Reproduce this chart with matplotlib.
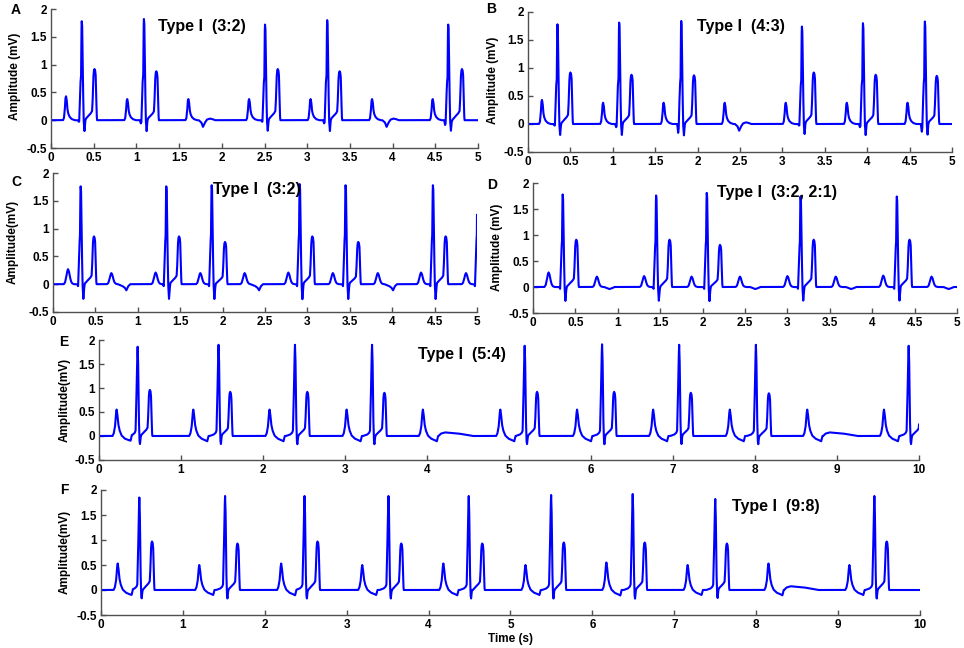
import numpy as np
import matplotlib
matplotlib.use("Agg")
import matplotlib.pyplot as plt

plt.rcParams['font.family'] = ['Liberation Sans', 'DejaVu Sans']

# ---- event data (times in s, amplitudes in mV) ----
# A: Type I (3:2)
A_p_times = [0.176, 0.893, 1.609, 2.32, 3.04, 3.76, 4.47]
A_p_amps = [0.43, 0.38, 0.38, 0.38, 0.38, 0.38, 0.38]
A_r_times = [0.36, 1.088, 2.506, 3.234, 4.651]
A_r_amps = [1.78, 1.82, 1.72, 1.80, 1.72]
A_q_amps = [0.02, 0.05, 0.02, 0.05, 0.08]
A_t_times = [0.509, 1.233, 2.655, 3.379, 4.812]
A_t_amps = [0.92, 0.88, 0.92, 0.88, 0.92]
A_drop_times = [1.78, 3.93]

# B: Type I (4:3)
B_p_times = [0.165, 0.886, 1.60, 2.32, 3.04, 3.76, 4.476]
B_p_amps = [0.43, 0.38, 0.38, 0.38, 0.38, 0.38, 0.38]
B_r_times = [0.347, 1.075, 1.807, 3.23, 3.95, 4.68]
B_r_amps = [1.78, 1.81, 1.84, 1.74, 1.80, 1.83]
B_q_amps = [0.02, 0.05, 0.15, 0.02, 0.05, 0.13]
B_t_times = [0.50, 1.22, 1.957, 3.37, 4.10, 4.82]
B_t_amps = [0.92, 0.88, 0.87, 0.92, 0.88, 0.86]
B_drop_times = [2.49]

# C: Type I (3:2)
C_p_times = [0.177, 0.688, 1.21, 1.737, 2.26, 2.775, 3.30, 3.83, 4.34, 4.87]
C_p_amps = [0.27, 0.20, 0.21, 0.20, 0.20, 0.21, 0.20, 0.20, 0.21, 0.20]
C_r_times = [0.326, 1.336, 1.871, 2.909, 3.45, 4.48, 5.006]
C_r_amps = [1.76, 1.76, 1.78, 1.80, 1.78, 1.78, 1.78]
C_t_times = [0.483, 1.486, 2.028, 3.058, 3.60, 4.63]
C_t_amps = [0.86, 0.86, 0.76, 0.86, 0.76, 0.86]
C_drop_times = [0.865, 2.43, 4.01]

# D: Type I (3:2, 2:1)
D_p_times = [0.184, 0.753, 1.31, 1.87, 2.44, 3.0, 3.57, 4.13, 4.70]
D_p_amps = [0.28, 0.20, 0.21, 0.20, 0.20, 0.21, 0.20, 0.22, 0.20]
D_r_times = [0.35, 1.452, 2.049, 3.155, 4.29]
D_r_amps = [1.78, 1.76, 1.81, 1.74, 1.74]
D_t_times = [0.51, 1.61, 2.205, 3.31, 4.44]
D_t_amps = [0.91, 0.91, 0.81, 0.91, 0.91]
D_drop_times = [0.9, 2.62, 3.75, 4.9]

# E: Type I (5:4)
E_p_times = [0.215, 1.15, 2.08, 3.02, 3.95, 4.894, 5.83, 6.758, 7.693, 8.637, 9.573]
E_p_amps = [0.55, 0.55, 0.55, 0.55, 0.55, 0.55, 0.55, 0.55, 0.55, 0.55, 0.55]
E_r_times = [0.471, 1.458, 2.39, 3.33, 5.191, 6.135, 7.075, 8.011, 9.874]
E_r_amps = [1.86, 1.90, 1.90, 1.90, 1.88, 1.91, 1.90, 1.90, 1.88]
E_t_times = [0.62, 1.60, 2.54, 3.48, 5.342, 6.282, 7.217, 8.169, 10.025]
E_t_amps = [0.96, 0.92, 0.92, 0.90, 0.92, 0.92, 0.90, 0.89, 0.90]
E_drop_times = [4.14, 8.83]

# F: Type I (9:8)
F_p_times = [0.204, 1.20, 2.20, 3.19, 4.18, 5.183, 6.171, 7.163, 8.15, 9.138]
F_p_amps = [0.53, 0.50, 0.53, 0.50, 0.53, 0.50, 0.55, 0.50, 0.53, 0.50]
F_r_times = [0.468, 1.515, 2.485, 3.51, 4.49, 5.496, 6.492, 7.50, 9.443]
F_r_amps = [1.85, 1.88, 1.88, 1.88, 1.88, 1.90, 1.92, 1.82, 1.88]
F_t_times = [0.623, 1.666, 2.644, 3.666, 4.655, 5.65, 6.638, 7.642, 9.593]
F_t_amps = [0.97, 0.93, 0.97, 0.93, 0.93, 0.95, 0.95, 0.93, 0.97]
F_drop_times = [8.34]

AB_P_off = [-0.035, -0.024, -0.014, -0.008, 0.0, 0.008, 0.015, 0.024, 0.040, 0.065, 0.100]
AB_P_val = [0.0, 0.10, 0.45, 0.90, 1.00, 0.85, 0.50, 0.30, 0.15, 0.05, 0.0]
CD_P_off = [-0.050, -0.035, -0.020, -0.010, 0.0, 0.010, 0.022, 0.036, 0.050, 0.070]
CD_P_val = [0.0, 0.12, 0.50, 0.85, 1.00, 0.88, 0.50, 0.18, 0.05, 0.0]
EF_P_off = [-0.050, -0.035, -0.020, -0.008, 0.0, 0.008, 0.020, 0.035, 0.060, 0.100, 0.140, 0.170, 0.185]
EF_P_val = [0.0, 0.10, 0.35, 0.85, 1.00, 0.85, 0.45, 0.22, 0.02, -0.10, -0.15, -0.20, 0.0]

AB_R_off = [-0.040, -0.030, -0.022, -0.015, -0.008, -0.004, 0.0, 0.005, 0.012, 0.022, 0.032, 0.040, 0.048]
AB_R_val = [0.0, -0.01, 0.20, 0.38, 0.45, 0.90, 1.00, 0.95, 0.50, 0.00, -0.11, -0.02, 0.0]
CD_R_val = [0.0, -0.02, 0.20, 0.40, 0.50, 0.90, 1.00, 0.95, 0.50, 0.00, -0.15, -0.05, 0.0]
EF_R_off = [-0.110, -0.060, -0.035, -0.025, -0.015, -0.006, 0.0, 0.006, 0.014, 0.022, 0.029, 0.036, 0.044]
EF_R_val = [0.0, 0.015, 0.035, 0.06, 0.40, 0.85, 1.00, 0.85, 0.25, -0.05, -0.09, -0.02, 0.0]
Q_off = [-0.048, -0.036, -0.026]
Q_val = [0.0, -1.0, 0.0]

T_off = [-0.115, -0.080, -0.045, -0.028, -0.022, -0.014, -0.008, 0.0, 0.008, 0.014, 0.020, 0.026, 0.030]
T_val = [0.0, 0.07, 0.13, 0.18, 0.35, 0.80, 0.96, 1.00, 0.97, 0.88, 0.55, 0.10, 0.0]

AB_X_off = [-0.05, -0.02, 0.0, 0.02, 0.045, 0.08, 0.11, 0.14]
AB_X_val = [0.0, -0.04, -0.12, -0.05, 0.01, 0.03, 0.02, 0.0]
C_X_off = [-0.10, -0.05, -0.02, 0.0, 0.02, 0.045]
C_X_val = [0.0, -0.03, -0.06, -0.11, -0.04, 0.0]
D_X_off = [-0.06, -0.03, 0.0, 0.03, 0.06]
D_X_val = [0.0, -0.02, -0.04, -0.025, 0.0]
EF_X_off = [0.0, 0.03, 0.08, 0.15, 0.25, 0.35, 0.42]
EF_X_val = [0.0, 0.05, 0.075, 0.065, 0.05, 0.02, 0.0]


def add_wave(t, sig, times, amps, off, val):
    off = np.asarray(off)
    val = np.asarray(val)
    for tc, a in zip(times, amps):
        sig += a * np.interp(t, tc + off, val, left=0, right=0)


def trace(tmax, p, r, tw, x, q=None):
    t = np.arange(0, tmax + 0.00025, 0.0005)
    sig = np.zeros_like(t)
    add_wave(t, sig, *p)
    add_wave(t, sig, *r)
    add_wave(t, sig, *tw)
    add_wave(t, sig, *x)
    if q is not None:
        add_wave(t, sig, *q)
    return t, sig


W, H = 964, 648
fig = plt.figure(figsize=(W / 100, H / 100), dpi=100)


def px_axes(l, top, r, b):
    return fig.add_axes([l / W, 1 - b / H, (r - l) / W, (b - top) / H])


def ftext(x, y, s, **kw):
    fig.text(x / W, 1 - y / H, s, fontweight='bold', **kw)


def style(ax, tmax, half):
    ax.set_xlim(0, tmax)
    ax.set_ylim(-0.5, 2)
    if half:
        xt = np.arange(0, 5.01, 0.5)
        xl = ['0', '0.5', '1', '1.5', '2', '2.5', '3', '3.5', '4', '4.5', '5']
    else:
        xt = np.arange(0, 11)
        xl = [str(i) for i in range(11)]
    ax.set_xticks(xt)
    ax.set_xticklabels(xl, fontweight='bold', fontsize=8.5)
    ax.set_yticks([-0.5, 0, 0.5, 1, 1.5, 2])
    ax.set_yticklabels(['-0.5', '0', '0.5', '1', '1.5', '2'], fontweight='bold', fontsize=8.5)
    ax.spines[['top', 'right']].set_visible(False)
    for s in ['left', 'bottom']:
        ax.spines[s].set_color('#505050')
        ax.spines[s].set_linewidth(1.0)
    ax.tick_params(direction='in', length=3.6, width=1, color='#505050', pad=3)


ones = lambda n: [1.0] * len(n)

panels = [
    # box (l, t, r, b) px, tmax, wave groups
    ((51, 9, 478, 148), 5,
     (A_p_times, A_p_amps, AB_P_off, AB_P_val), (A_r_times, A_r_amps, AB_R_off, AB_R_val),
     (A_t_times, A_t_amps, T_off, T_val), (A_drop_times, ones(A_drop_times), AB_X_off, AB_X_val),
     (A_r_times, A_q_amps, Q_off, Q_val)),
    ((528, 12, 952, 152), 5,
     (B_p_times, B_p_amps, AB_P_off, AB_P_val), (B_r_times, B_r_amps, AB_R_off, AB_R_val),
     (B_t_times, B_t_amps, T_off, T_val), (B_drop_times, ones(B_drop_times), AB_X_off, AB_X_val),
     (B_r_times, B_q_amps, Q_off, Q_val)),
    ((53, 173, 477, 312), 5,
     (C_p_times, C_p_amps, CD_P_off, CD_P_val), (C_r_times, C_r_amps, AB_R_off, CD_R_val),
     (C_t_times, C_t_amps, T_off, T_val), (C_drop_times, ones(C_drop_times), C_X_off, C_X_val), None),
    ((533, 183, 957, 313), 5,
     (D_p_times, D_p_amps, CD_P_off, CD_P_val), (D_r_times, D_r_amps, AB_R_off, CD_R_val),
     (D_t_times, D_t_amps, T_off, T_val), (D_drop_times, ones(D_drop_times), D_X_off, D_X_val), None),
    ((99, 340, 919, 460), 10,
     (E_p_times, E_p_amps, EF_P_off, EF_P_val), (E_r_times, E_r_amps, EF_R_off, EF_R_val),
     (E_t_times, E_t_amps, T_off, T_val), (E_drop_times, ones(E_drop_times), EF_X_off, EF_X_val), None),
    ((101, 490, 920, 615), 10,
     (F_p_times, F_p_amps, EF_P_off, EF_P_val), (F_r_times, F_r_amps, EF_R_off, EF_R_val),
     (F_t_times, F_t_amps, T_off, T_val), (F_drop_times, ones(F_drop_times), EF_X_off, EF_X_val), None),
]

for box, tmax, p, r, tw, x, q in panels:
    ax = px_axes(*box)
    t, sig = trace(tmax, p, r, tw, x, q)
    ax.plot(t, sig, color='#0000FF', lw=1.5)
    style(ax, tmax, tmax == 5)

# titles
ftext(158, 27, 'Type I  (3:2)', fontsize=11.5, ha='left', va='center')
ftext(697, 26, 'Type I  (4:3)', fontsize=11.5, ha='left', va='center')
ftext(213, 189, 'Type I  (3:2)', fontsize=11.5, ha='left', va='center')
ftext(717, 193, 'Type I  (3:2, 2:1)', fontsize=11.5, ha='left', va='center')
ftext(418, 355, 'Type I  (5:4)', fontsize=11.5, ha='left', va='center')
ftext(732, 506, 'Type I  (9:8)', fontsize=11.5, ha='left', va='center')

# panel letters
for lx, ly, s in [(16, 10, 'A'), (491, 9, 'B'), (16, 182, 'C'), (492, 185, 'D'),
                  (64, 342, 'E'), (64, 490, 'F')]:
    ftext(lx, ly, s, fontsize=10, ha='center', va='center')

# y labels
for lx, ly, s in [(15, 76, 'Amplitude (mV)'), (493, 80, 'Amplitude (mV)'),
                  (13, 242, 'Amplitude(mV)'), (497, 247, 'Amplitude (mV)'),
                  (65, 400, 'Amplitude(mV)'), (65, 552, 'Amplitude(mV)')]:
    ftext(lx, ly, s, fontsize=8.5, ha='center', va='center', rotation=90)

ftext(510, 639, 'Time (s)', fontsize=8.5, ha='center', va='center')

fig.savefig('out.png', dpi=100)
